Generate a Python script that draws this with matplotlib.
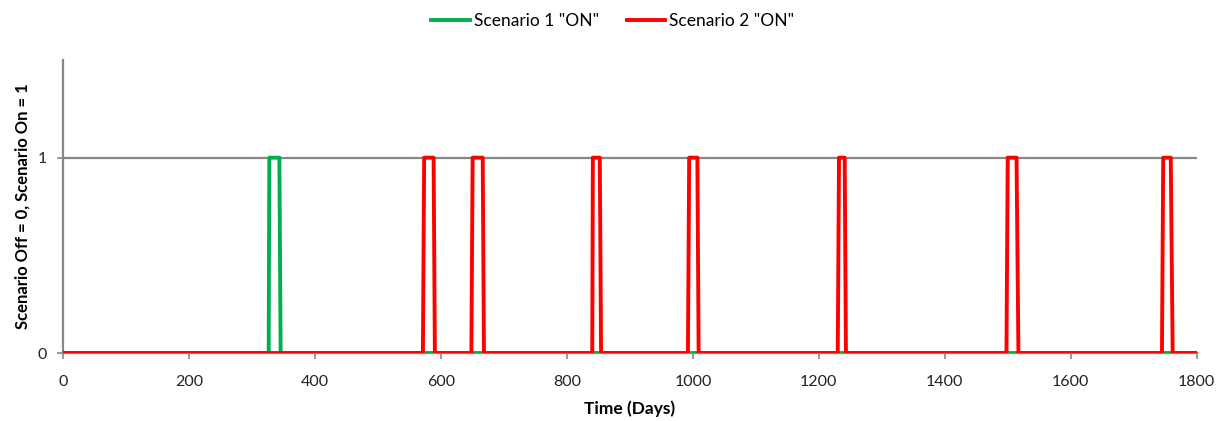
import matplotlib
matplotlib.use('Agg')
import matplotlib.pyplot as plt

# scenario on/off signals (day, state)
s1_days = [0, 326, 327, 343, 345, 1800]
s1_state = [0, 0, 1, 1, 0, 0]

s2_days = [0,
           571, 573, 588, 590,
           648, 650, 666, 668,
           840, 841, 852, 854,
           992, 994, 1007, 1009,
           1230, 1232, 1241, 1243,
           1498, 1500, 1514, 1517,
           1745, 1747, 1759, 1762,
           1800]
s2_state = [0,
            0, 1, 1, 0,
            0, 1, 1, 0,
            0, 1, 1, 0,
            0, 1, 1, 0,
            0, 1, 1, 0,
            0, 1, 1, 0,
            0, 1, 1, 0,
            0]

xticks = [0, 200, 400, 600, 800, 1000, 1200, 1400, 1600, 1800]
yticks = [0, 1]

plt.rcParams['font.family'] = ['Lato', 'DejaVu Sans']

fig = plt.figure(figsize=(12.25, 4.21), dpi=100)
ax = fig.add_axes([0.0518, 0.1615, 0.925, 0.696])

grey = '#878787'
ax.axhline(1, color=grey, lw=1.6, zorder=1)

ax.plot(s1_days, s1_state, color='#00B050', lw=2.8, label='Scenario 1 "ON"', zorder=3)
ax.plot(s2_days, s2_state, color='#FF0000', lw=2.8, label='Scenario 2 "ON"', zorder=4)

ax.set_xlim(0, 1800)
ax.set_ylim(0, 1.5)
ax.set_xticks(xticks)
ax.set_yticks(yticks)
ax.tick_params(axis='both', colors=grey, labelcolor='#222222', labelsize=11.5,
               length=4, width=1.2, direction='out')
ax.tick_params(axis='y', pad=8)
ax.tick_params(axis='x', pad=12)

for side in ['top', 'right']:
    ax.spines[side].set_visible(False)
for side in ['left', 'bottom']:
    ax.spines[side].set_color(grey)
    ax.spines[side].set_linewidth(1.6)

ax.set_xlabel('Time (Days)', fontsize=12.5, fontweight='bold', labelpad=8)
ax.set_ylabel('Scenario Off = 0, Scenario On = 1', fontsize=12, fontweight='bold', labelpad=5)

ax.legend(loc='upper center', bbox_to_anchor=(0.485, 1.215), ncol=2, frameon=False,
          fontsize=12.5, handlelength=2.2, columnspacing=1.6, handletextpad=0.25)

fig.savefig('out.png', dpi=100)
